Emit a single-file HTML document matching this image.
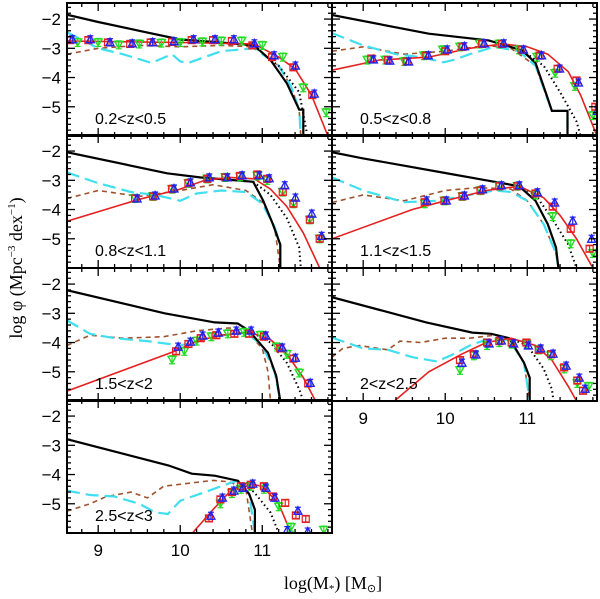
<!DOCTYPE html>
<html><head><meta charset="utf-8"><style>
body{margin:0;background:#fff;}
svg{display:block;font-family:"Liberation Serif",serif;}
</style></head><body>
<svg id="chart" width="600" height="599" viewBox="0 0 600 599"></svg>
<script>
// ---------- data (log M, log phi) ----------
const p1_blackM=[8.62,9,9.5,10,10.5,10.9,11.1,11.3,11.45,11.5,11.5];
const p1_blackV=[-1.85,-2.1,-2.4,-2.7,-2.8,-2.9,-3.4,-4.2,-5.1,-5.1,-6];
const p1_dotM=[10.9,11.1,11.2,11.45,11.55];
const p1_dotV=[-2.9,-3.4,-3.6,-4.5,-6];
const p1_cyanM=[8.62,9.0,9.3,9.65,9.9,10.0,10.1,10.5,10.9,11.2,11.35,11.45,11.47];
const p1_cyanV=[-2.45,-3.0,-3.2,-3.5,-3.2,-3.45,-3.5,-3.1,-3.0,-3.6,-4.3,-5.1,-6];
const p1_brownM=[8.62,9.0,9.5,10.0,10.5,10.9,11.2,11.35,11.45,11.47];
const p1_brownV=[-3.2,-3.0,-2.9,-2.95,-2.9,-2.95,-3.6,-4.3,-5.1,-6];
const p1_redM=[8.62,10,10.9,11.2,11.4,11.6,11.8];
const p1_redV=[-2.75,-2.8,-2.85,-3.3,-3.7,-4.6,-6];
const p1_ptM=[8.66,8.88,9.12,9.39,9.64,9.9,10.14,10.4,10.63,10.88,11.12,11.38,11.61];
const p1_blueV=[-2.69,-2.69,-2.79,-2.83,-2.79,-2.76,-2.69,-2.69,-2.69,-2.83,-3.24,-3.59,-4.55];
const p1_redPtV=[-2.72,-2.72,-2.8,-2.85,-2.8,-2.78,-2.72,-2.72,-2.75,-2.9,-3.3,-3.65,-4.6];
const p1_greenM=[8.75,9.0,9.25,9.5,9.77,10.0,10.27,10.5,10.75,11.0,11.25,11.5,11.78];
const p1_greenV=[-2.8,-2.8,-2.88,-2.85,-2.82,-2.8,-2.78,-2.75,-2.75,-2.9,-3.3,-4.35,-5.2];

const p2_blackM=[8.62,9.8,10.53,10.94,11.1,11.23,11.3,11.49,11.49];
const p2_blackV=[-1.86,-2.5,-2.73,-3.07,-3.5,-4.55,-5.14,-5.14,-6];
const p2_dotM=[10.94,11.2,11.4,11.6,11.65];
const p2_dotV=[-3.07,-3.6,-4.5,-5.5,-6];
const p2_cyanM=[8.62,9.0,9.4,9.7,9.98,10.1,10.3,10.6,10.9,11.1,11.23,11.3,11.49,11.49];
const p2_cyanV=[-2.48,-2.9,-3.2,-3.3,-3.48,-3.4,-3.2,-2.95,-3.1,-3.6,-4.6,-5.14,-5.14,-6];
const p2_brownM=[8.62,9.0,9.5,10.0,10.5,10.8,11.1,11.23,11.3,11.49,11.49];
const p2_brownV=[-3.1,-2.95,-3.2,-3.1,-2.9,-3.0,-3.6,-4.6,-5.14,-5.14,-6];
const p2_redM=[8.62,9.2,9.8,10.3,10.7,11.0,11.25,11.5,11.65,11.85];
const p2_redV=[-3.75,-3.4,-3.3,-3.0,-2.85,-2.95,-3.2,-3.8,-4.6,-6];
const p2_ptM=[9.1,9.3,9.53,9.77,10.0,10.21,10.45,10.69,10.93,11.15,11.37,11.6,11.83];
const p2_blueV=[-3.38,-3.42,-3.45,-3.24,-3.04,-2.93,-2.83,-2.83,-3.04,-3.24,-3.69,-4.17,-5.14];
const p2_redPtV=[-3.35,-3.4,-3.45,-3.25,-3.1,-2.95,-2.85,-2.85,-3.05,-3.25,-3.7,-4.1,-5.0];
const p2_greenM=[9.05,9.27,9.5,9.74,9.97,10.18,10.42,10.66,10.9,11.12,11.34,11.58,11.8];
const p2_greenV=[-3.4,-3.4,-3.45,-3.25,-3.05,-2.95,-2.85,-2.85,-3.05,-3.3,-3.85,-4.3,-5.3];

const p3_blackM=[8.62,9.84,10.24,10.89,11.01,11.13,11.22,11.22];
const p3_blackV=[-2.04,-2.76,-2.9,-3.05,-3.69,-4.5,-5.2,-6];
const p3_dotM=[10.89,11.1,11.3,11.45,11.47];
const p3_dotV=[-3.05,-3.5,-4.3,-5.3,-6];
const p3_cyanM=[8.62,9.0,9.4,9.7,10.0,10.2,10.5,10.8,11.0,11.15,11.22,11.22];
const p3_cyanV=[-2.73,-3.1,-3.4,-3.5,-3.7,-3.45,-3.35,-3.4,-3.8,-4.6,-5.2,-6];
const p3_brownM=[8.62,9.0,9.5,10.0,10.4,10.8,11.0,11.15,11.22];
const p3_brownV=[-3.62,-3.35,-3.55,-3.35,-3.15,-3.35,-3.75,-4.6,-6];
const p3_redM=[8.62,9.5,10.0,10.3,10.6,10.9,11.1,11.3,11.5,11.7];
const p3_redV=[-4.4,-3.65,-3.3,-3.0,-2.9,-2.95,-3.3,-3.9,-4.8,-6];
const p3_ptM=[9.45,9.67,9.9,10.1,10.33,10.55,10.73,10.94,11.06,11.25,11.38,11.58,11.7];
const p3_blueV=[-3.62,-3.52,-3.28,-3.07,-2.9,-2.9,-2.83,-2.83,-2.93,-3.17,-3.59,-4.14,-4.9];
const p3_redPtV=[-3.62,-3.55,-3.3,-3.1,-2.95,-2.9,-2.85,-2.8,-2.95,-3.4,-3.8,-4.35,-5.0];
const p3_greenM=[9.45,9.67,9.9,10.1,10.33,10.55,10.73,10.94,11.06,11.25,11.38,11.58,11.7];
const p3_greenV=[-3.62,-3.55,-3.3,-3.1,-2.95,-2.9,-2.88,-2.85,-3.0,-3.4,-3.8,-4.35,-5.0];

const p4_blackM=[8.62,9.0,9.5,10.0,10.5,10.9,11.1,11.25,11.35,11.38];
const p4_blackV=[-2.04,-2.25,-2.5,-2.75,-3.0,-3.2,-3.7,-4.5,-5.3,-6];
const p4_dotM=[10.9,11.1,11.3,11.5,11.6];
const p4_dotV=[-3.2,-3.5,-4.3,-5.2,-6];
const p4_cyanM=[8.62,9.0,9.5,9.9,10.3,10.6,10.8,11.0,11.2,11.35,11.38];
const p4_cyanV=[-2.9,-3.35,-3.75,-3.7,-3.5,-3.35,-3.4,-3.7,-4.5,-5.5,-6];
const p4_brownM=[8.62,9.0,9.5,10.0,10.4,10.8,11.0,11.2,11.35,11.38];
const p4_brownV=[-3.76,-3.5,-3.7,-3.35,-3.25,-3.3,-3.7,-4.5,-5.5,-6];
const p4_redM=[8.62,9.6,10.0,10.5,10.9,11.2,11.4,11.6,11.8];
const p4_redV=[-5.0,-4.0,-3.7,-3.35,-3.2,-3.6,-4.2,-5.0,-6];
const p4_ptM=[9.75,9.99,10.21,10.43,10.66,10.88,11.1,11.31,11.53,11.76];
const p4_blueV=[-3.69,-3.69,-3.52,-3.31,-3.17,-3.17,-3.41,-3.76,-4.38,-5.0];
const p4_redPtV=[-3.75,-3.7,-3.55,-3.35,-3.2,-3.2,-3.45,-3.9,-4.66,-5.34];
const p4_greenM=[9.75,9.99,10.21,10.43,10.66,10.88,11.1,11.31,11.53,11.8];
const p4_greenV=[-3.8,-3.7,-3.55,-3.35,-3.2,-3.2,-3.5,-4.24,-5.17,-5.5];

const p5_blackM=[8.62,9.81,10.42,10.7,10.84,11.07,11.17,11.22];
const p5_blackV=[-2.21,-3.0,-3.31,-3.35,-3.6,-4.35,-5.14,-6];
const p5_dotM=[10.84,11.1,11.3,11.45,11.5];
const p5_dotV=[-3.6,-4.0,-4.7,-5.6,-6];
const p5_cyanM=[8.62,8.9,9.2,9.6,10.0,10.4,10.8,11.0,11.15,11.22];
const p5_cyanV=[-3.24,-3.7,-3.85,-3.95,-4.1,-3.8,-3.65,-4.1,-5.0,-6];
const p5_brownM=[8.62,8.9,9.3,9.8,10.2,10.6,10.8,11.0,11.07,11.1];
const p5_brownV=[-4.1,-3.75,-3.85,-3.8,-3.6,-3.5,-3.6,-4.2,-5.0,-6];
const p5_redM=[8.62,9.95,10.2,10.5,10.85,11.1,11.3,11.5,11.65];
const p5_redV=[-5.66,-4.28,-3.95,-3.75,-3.65,-3.9,-4.4,-5.2,-6];
const p5_ptM=[9.95,10.1,10.25,10.44,10.66,10.84,11.02,11.22,11.38,11.56];
const p5_blueV=[-4.14,-3.97,-3.76,-3.66,-3.59,-3.59,-3.76,-4.17,-4.52,-5.38];
const p5_redPtV=[-4.3,-4.05,-3.85,-3.75,-3.7,-3.7,-3.8,-4.2,-4.55,-5.4];
const p5_greenM=[9.9,10.05,10.2,10.38,10.58,10.78,10.98,11.18,11.3,11.45];
const p5_greenV=[-4.59,-4.3,-3.95,-3.8,-3.7,-3.65,-3.75,-4.15,-4.4,-5.04];

const p6_blackM=[8.62,9.77,10.33,10.56,10.78,10.96,11.03,11.03];
const p6_blackV=[-2.45,-3.31,-3.66,-3.7,-3.85,-4.69,-5.2,-6];
const p6_dotM=[10.78,11.0,11.2,11.3,11.32];
const p6_dotV=[-3.85,-4.1,-4.9,-5.6,-6];
const p6_cyanM=[8.62,9.0,9.3,9.6,9.9,10.1,10.3,10.5,10.78,10.96,11.03];
const p6_cyanV=[-3.83,-4.2,-4.25,-4.5,-4.65,-4.4,-4.1,-3.9,-3.9,-4.7,-6];
const p6_brownM=[8.62,8.75,8.95,9.3,9.45,9.7,10.0,10.3,10.6,10.8,10.96,11.03];
const p6_brownV=[-4.5,-4.2,-4.1,-4.25,-3.95,-4.0,-3.85,-3.85,-3.75,-3.9,-4.7,-6];
const p6_redM=[9.38,9.8,10.2,10.5,10.8,11.1,11.3,11.5,11.6];
const p6_redV=[-6,-5.0,-4.4,-4.0,-3.85,-4.1,-4.6,-5.5,-6];
const p6_ptM=[10.18,10.35,10.51,10.66,10.81,10.99,11.14,11.29,11.45,11.61,11.68];
const p6_blueV=[-4.69,-4.41,-4.03,-3.93,-4.03,-4.1,-4.2,-4.38,-4.79,-5.2,-5.58];
const p6_redPtV=[-4.6,-4.4,-4.0,-3.95,-4.0,-4.0,-4.25,-4.4,-4.85,-5.3,-5.65];
const p6_greenM=[10.18,10.35,10.51,10.66,10.81,10.99,11.14,11.29,11.45,11.61,11.75];
const p6_greenV=[-4.95,-4.45,-4.1,-4.0,-4.05,-4.05,-4.25,-4.45,-4.9,-5.4,-5.5];

const p7_blackM=[8.62,9.86,10.14,10.42,10.7,10.84,10.91,10.91];
const p7_blackV=[-2.79,-3.69,-3.97,-4.04,-4.21,-4.66,-5.2,-6];
const p7_dotM=[10.7,10.9,11.1,11.2];
const p7_dotV=[-4.21,-4.6,-5.3,-6];
const p7_cyanM=[8.62,8.9,9.2,9.5,9.7,9.85,10.0,10.3,10.6,10.7,10.84,10.91];
const p7_cyanV=[-4.55,-4.7,-4.75,-5.0,-5.3,-5.35,-4.9,-4.6,-4.3,-4.21,-4.66,-6];
const p7_brownM=[8.62,8.9,9.1,9.4,9.6,9.8,10.1,10.4,10.6,10.8,10.88];
const p7_brownV=[-5.25,-5.0,-4.75,-4.6,-4.8,-4.4,-4.3,-4.2,-4.25,-4.5,-6];
const p7_redM=[10.15,10.4,10.6,10.8,11.0,11.2,11.35];
const p7_redV=[-6,-5.2,-4.6,-4.3,-4.4,-5.0,-6];
const p7_ptM=[10.35,10.49,10.63,10.74,10.86,11.02,11.13,11.28,11.41,11.53];
const p7_blueV=[-5.41,-4.79,-4.55,-4.45,-4.31,-4.45,-4.79,-5.9,-5.24,-5.95];
const p7_redPtV=[-5.5,-4.85,-4.6,-4.4,-4.35,-4.4,-4.75,-4.97,-5.4,-5.52];
const p7_greenM=[10.49,10.63,10.74,10.86,11.02,11.2,11.35,11.75];
const p7_greenV=[-5.0,-4.65,-4.5,-4.4,-4.5,-5.1,-5.8,-5.9];

const panelLabels=["0.2<z<0.5","0.5<z<0.8","0.8<z<1.1","1.1<z<1.5","1.5<z<2","2<z<2.5","2.5<z<3"];
const xTicks=[9,10,11];
const yTicks=[-2,-3,-4,-5];

// ---------- layout ----------
const NS="http://www.w3.org/2000/svg";
const svg=document.getElementById('chart');
const XMIN=8.62,XMAX=11.85,YMIN=-6,YMAX=-1.45;
const colX=[67,332],colW=[265,265];
const rowY=[3,135,268,400],rowH=133;
const panelDefs=[
 {c:0,r:0,d:[p1_blackM,p1_blackV,p1_dotM,p1_dotV,p1_cyanM,p1_cyanV,p1_brownM,p1_brownV,p1_redM,p1_redV,p1_ptM,p1_blueV,p1_redPtV,p1_greenM,p1_greenV]},
 {c:1,r:0,d:[p2_blackM,p2_blackV,p2_dotM,p2_dotV,p2_cyanM,p2_cyanV,p2_brownM,p2_brownV,p2_redM,p2_redV,p2_ptM,p2_blueV,p2_redPtV,p2_greenM,p2_greenV]},
 {c:0,r:1,d:[p3_blackM,p3_blackV,p3_dotM,p3_dotV,p3_cyanM,p3_cyanV,p3_brownM,p3_brownV,p3_redM,p3_redV,p3_ptM,p3_blueV,p3_redPtV,p3_greenM,p3_greenV]},
 {c:1,r:1,d:[p4_blackM,p4_blackV,p4_dotM,p4_dotV,p4_cyanM,p4_cyanV,p4_brownM,p4_brownV,p4_redM,p4_redV,p4_ptM,p4_blueV,p4_redPtV,p4_greenM,p4_greenV]},
 {c:0,r:2,d:[p5_blackM,p5_blackV,p5_dotM,p5_dotV,p5_cyanM,p5_cyanV,p5_brownM,p5_brownV,p5_redM,p5_redV,p5_ptM,p5_blueV,p5_redPtV,p5_greenM,p5_greenV]},
 {c:1,r:2,d:[p6_blackM,p6_blackV,p6_dotM,p6_dotV,p6_cyanM,p6_cyanV,p6_brownM,p6_brownV,p6_redM,p6_redV,p6_ptM,p6_blueV,p6_redPtV,p6_greenM,p6_greenV]},
 {c:0,r:3,d:[p7_blackM,p7_blackV,p7_dotM,p7_dotV,p7_cyanM,p7_cyanV,p7_brownM,p7_brownV,p7_redM,p7_redV,p7_ptM,p7_blueV,p7_redPtV,p7_greenM,p7_greenV]}
];
function mk(tag,attrs,parent){const e=document.createElementNS(NS,tag);for(const k in attrs)e.setAttribute(k,attrs[k]);(parent||svg).appendChild(e);return e;}

const defs=mk('defs',{});
panelDefs.forEach((p,i)=>{
 const x0=colX[p.c],y0=rowY[p.r],w=colW[p.c],h=rowH;
 const sx=m=>x0+(m-XMIN)/(XMAX-XMIN)*w;
 const sy=v=>y0+(YMAX-v)/(YMAX-YMIN)*h;
 const cp=mk('clipPath',{id:'clip'+i},defs);
 mk('rect',{x:x0,y:y0,width:w,height:h},cp);
 const g=mk('g',{'clip-path':'url(#clip'+i+')'});
 
 
 const d=p.d;
 function line(M,V,style,name){
  const pts=M.map((m,k)=>sx(m).toFixed(1)+','+sy(V[k]).toFixed(1)).join(' ');
  const pl=mk('polyline',Object.assign({points:pts,fill:'none'},style),g);
  
  
 }
 line(d[6],d[7],{stroke:'#a0522d','stroke-width':1.6,'stroke-dasharray':'5 4'},'brown-dashed-curve');
 line(d[4],d[5],{stroke:'#40dff0','stroke-width':2.2,'stroke-dasharray':'13 6'},'cyan-long-dashed-curve');
 line(d[2],d[3],{stroke:'#000','stroke-width':2,'stroke-dasharray':'1.5 3'},'black-dotted-curve');
 line(d[0],d[1],{stroke:'#000','stroke-width':2.2},'black-solid-curve');
 line(d[8],d[9],{stroke:'#e52020','stroke-width':1.6},'red-fit-curve');
 function ebar(x,y,col,e){mk('line',{x1:x,x2:x,y1:y-e,y2:y+e,stroke:col,'stroke-width':1.2},g);mk('line',{x1:x-3,x2:x+3,y1:y-e,y2:y-e,stroke:col,'stroke-width':1.2},g);mk('line',{x1:x-3,x2:x+3,y1:y+e,y2:y+e,stroke:col,'stroke-width':1.2},g);}
 d[13].forEach((m,k)=>{const x=sx(m),y=sy(d[14][k]);ebar(x,y,'#22dd22',4);
  const t=mk('polygon',{points:`${x-4},${y-3.5} ${x+4},${y-3.5} ${x},${y+3.5}`,fill:'none',stroke:'#22dd22','stroke-width':1.4},g);
  
  });
 d[10].forEach((m,k)=>{const x=sx(m),y=sy(d[12][k]);ebar(x,y,'#e52020',3);
  const r=mk('rect',{x:x-3.5,y:y-3.5,width:7,height:7,fill:'none',stroke:'#e52020','stroke-width':1.2},g);
  
  });
 d[10].forEach((m,k)=>{const x=sx(m)+2,y=sy(d[11][k]);ebar(x,y,'#2020ee',3.5);
  const t=mk('polygon',{points:`${x-4},${y+3.5} ${x+4},${y+3.5} ${x},${y-4}`,fill:'none',stroke:'#2020ee','stroke-width':1.3},g);
  
  });
 const fr=mk('rect',{x:x0,y:y0,width:w,height:h,fill:'none',stroke:'#000','stroke-width':2});
 
 
 for(let m=8.8;m<XMAX;m+=0.2){const mj=Math.abs(m-Math.round(m))<0.01;const L=mj?8:4;const x=sx(m);
  mk('line',{x1:x,x2:x,y1:y0+h,y2:y0+h-L,stroke:'#000','stroke-width':1.3});
  mk('line',{x1:x,x2:x,y1:y0,y2:y0+L,stroke:'#000','stroke-width':1.3});}
 for(let v=-5.8;v<YMAX;v+=0.2){const mj=Math.abs(v-Math.round(v))<0.01;const L=mj?8:4;const y=sy(v);
  mk('line',{x1:x0,x2:x0+L,y1:y,y2:y,stroke:'#000','stroke-width':1.3});
  mk('line',{x1:x0+w,x2:x0+w-L,y1:y,y2:y,stroke:'#000','stroke-width':1.3});}
 if(p.c===0){yTicks.forEach(v=>{const t=mk('text',{x:x0-6,y:sy(v)+6,'text-anchor':'end','font-size':17,'font-family':'Liberation Sans, sans-serif'});t.textContent='\u2212'+Math.abs(v);
  
  });}
 if((p.c===1&&p.r===2)||(p.c===0&&p.r===3)){xTicks.forEach(m=>{const t=mk('text',{x:sx(m),y:y0+h+23,'text-anchor':'middle','font-size':17,'font-family':'Liberation Sans, sans-serif'});t.textContent=m;
  
  });}
 const lb=mk('text',{x:x0+28,y:y0+121,'font-size':16,'font-family':'Liberation Sans, sans-serif'});
 lb.textContent=panelLabels[i];
 
 
});
const xt=mk('text',{x:333,y:589,'text-anchor':'middle','font-size':18});
xt.innerHTML='log(M<tspan font-size="11" dy="3">*</tspan><tspan dy="-3">)  [M</tspan><tspan font-size="11" dy="3">\u2299</tspan><tspan dy="-3">]</tspan>';


const yt=mk('text',{x:0,y:0,'text-anchor':'middle','font-size':18,transform:'translate(22,268) rotate(-90)'});
yt.innerHTML='log \u03C6  (Mpc<tspan font-size="11" dy="-7">\u22123</tspan><tspan dy="7"> dex</tspan><tspan font-size="11" dy="-7">\u22121</tspan><tspan dy="7">)</tspan>';


</script>
</body></html>
